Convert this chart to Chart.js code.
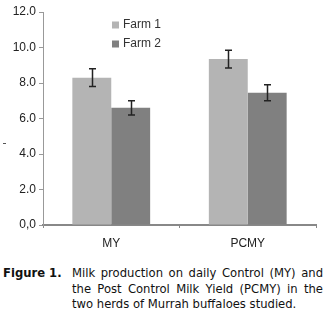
<!DOCTYPE html>
<html>
<head>
<meta charset="utf-8">
<script src="https://cdn.jsdelivr.net/npm/chart.js@4"></script>
<style>
    html, body { margin: 0; padding: 0; background: #fff; }
    #wrap { width: 329px; height: 315px; position: relative; }
    #chartBox { position: absolute; left: 0; top: 0; width: 329px; height: 255px; }
    .caption {
        position: absolute; left: 3px; top: 266px; width: 320px;
        font-family: "DejaVu Sans", Verdana, sans-serif; font-size: 11.6px;
        line-height: 15.5px; color: #111; display: flex;
    }
    .caption b { flex: 0 0 69px; }
    .caption span { flex: 1; text-align: justify; text-align-last: left; }
</style>
</head>
<body>
<div id="wrap">
    <div id="chartBox"><canvas id="milkChart" width="329" height="255"></canvas></div>
    <div class="caption">
        <b>Figure 1.</b>
        <span>Milk production on daily Control (MY) and the Post Control Milk Yield (PCMY) in the two herds of Murrah buffaloes studied.</span>
    </div>
</div>
<script>
// dữ liệu
const categories = ['MY', 'PCMY'];
const farm1 = [8.3, 9.35];
const farm2 = [6.6, 7.45];
const farm1Err = [0.5, 0.5];
const farm2Err = [0.4, 0.45];
const yTicks = [0, 2, 4, 6, 8, 10, 12];

const errorBars = {
    id: 'errorBars',
    afterDatasetsDraw(chart) {
        const ctx = chart.ctx;
        const y = chart.scales.y;
        ctx.save();
        ctx.strokeStyle = '#222';
        ctx.lineWidth = 1.5;
        chart.data.datasets.forEach((ds, i) => {
            const meta = chart.getDatasetMeta(i);
            meta.data.forEach((bar, j) => {
                const v = ds.data[j], e = ds.errors[j];
                const x = Math.round(bar.x) + 0.5;
                const top = y.getPixelForValue(v + e);
                const bot = y.getPixelForValue(v - e);
                ctx.beginPath();
                ctx.moveTo(x, top); ctx.lineTo(x, bot);
                ctx.moveTo(x - 3.5, top); ctx.lineTo(x + 3.5, top);
                ctx.moveTo(x - 3.5, bot); ctx.lineTo(x + 3.5, bot);
                ctx.stroke();
            });
        });
        ctx.restore();
    }
};

const sideLegend = {
    id: 'sideLegend',
    afterDraw(chart) {
        const ctx = chart.ctx;
        ctx.save();
        ctx.font = '12px "Liberation Sans", Arial, sans-serif';
        ctx.textBaseline = 'middle';
        chart.data.datasets.forEach((ds, i) => {
            const yy = 25 + i * 19;
            ctx.fillStyle = ds.backgroundColor;
            ctx.fillRect(112, yy - 3.5, 7, 7);
            ctx.fillStyle = '#333';
            ctx.fillText(ds.label, 123, yy);
        });
        // dấu gạch nhỏ còn sót lại của tiêu đề trục y
        ctx.fillStyle = '#555';
        ctx.fillRect(3, 143, 3, 1);
        ctx.restore();
    }
};

new Chart(document.getElementById('milkChart').getContext('2d'), {
    type: 'bar',
    data: {
        labels: categories,
        datasets: [{
            label: 'Farm 1',
            data: farm1,
            errors: farm1Err,
            backgroundColor: '#b4b4b4'
        }, {
            label: 'Farm 2',
            data: farm2,
            errors: farm2Err,
            backgroundColor: '#808080'
        }]
    },
    options: {
        responsive: false,
        animation: false,
        categoryPercentage: 0.57,
        barPercentage: 1,
        layout: { padding: { top: 12, right: 13, left: 0, bottom: 0 } },
        plugins: { legend: { display: false }, tooltip: { enabled: false } },
        scales: {
            x: {
                offset: true,
                grid: { offset: true, drawOnChartArea: false, tickLength: 3, color: '#888', lineWidth: 1 },
                border: { color: '#888', width: 2 },
                ticks: { color: '#222', font: { family: 'Liberation Sans', size: 12 }, padding: 8 },
                afterFit(scale) { scale.height = 30; }
            },
            y: {
                min: 0,
                max: 12,
                afterBuildTicks(scale) { scale.ticks = yTicks.map(v => ({ value: v })); },
                grid: { drawOnChartArea: false, tickLength: 4, color: '#999' },
                border: { color: '#999', width: 1 },
                ticks: {
                    color: '#222',
                    font: { family: 'Liberation Sans', size: 12 },
                    padding: 3,
                    callback: v => v === 0 ? '0,0' : v.toFixed(1)
                },
                afterFit(scale) { scale.width = 43; }
            }
        }
    },
    plugins: [errorBars, sideLegend]
});
</script>
</body>
</html>
